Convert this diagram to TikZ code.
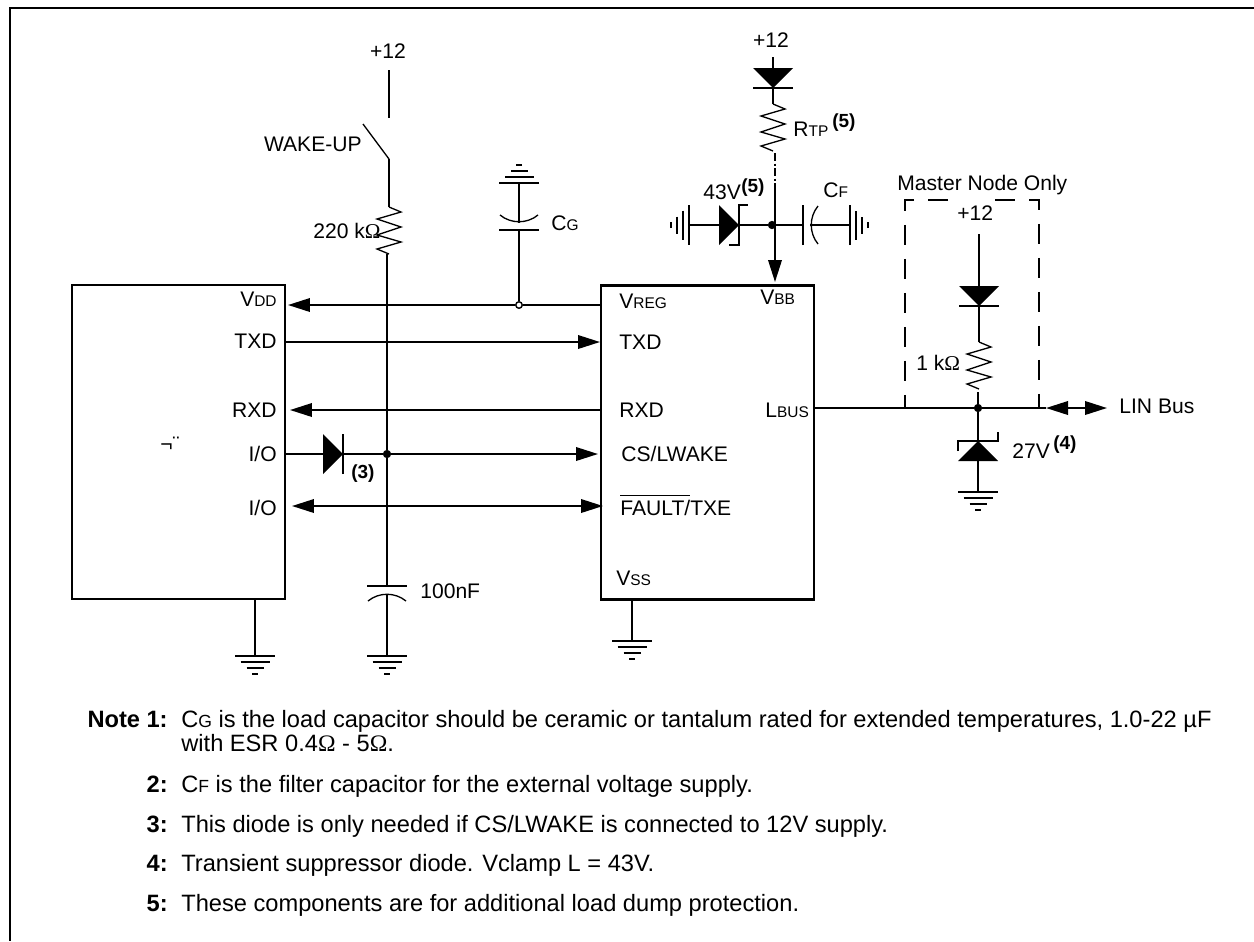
\documentclass[tikz,border=0pt]{standalone}
\usepackage{fontspec}
\setmainfont{Liberation Sans}
\newfontfamily\omegafont{Liberation Serif}
\usetikzlibrary{arrows.meta}
\newcommand{\smc}[1]{{\fontsize{8.8}{10}\selectfont #1}}
\newcommand{\smn}[1]{{\fontsize{10}{12}\selectfont #1}}
\newcommand{\omg}{{\omegafont Ω}}
\newcommand{\fnum}[1]{{\fontsize{10.8}{12}\selectfont\bfseries #1}}
\tikzset{
	every node/.style={font=\fontsize{12}{14}\selectfont},
	wire/.style={line width=1.15pt},
	fine/.style={line width=0.75pt},
	frame/.style={line width=1.4pt},
	block/.style={draw,line width=1.25pt,shape=rectangle,minimum width=4.26cm,minimum height=6.28cm},
	lbl/.style={inner sep=0pt,anchor=base west},
	lblr/.style={inner sep=0pt,anchor=base east},
	note/.style={lbl,font=\fontsize{13.46}{16}\selectfont},
	noter/.style={lblr,font=\fontsize{13.46}{16}\selectfont\bfseries},
	dot/.style={draw,shape=circle,fill,inner sep=0pt,minimum size=0.15cm},
	odot/.style={draw,shape=circle,fill=white,line width=0.8pt,inner sep=0pt,minimum size=0.13cm},
	gnd/.pic={
		\draw[wire] (-20,0) -- (20,0) (-14.5,6) -- (14.5,6) (-8.5,12) -- (8.5,12) (-3,18) -- (3,18);
	},
	dio/.pic={
		\fill (-20,0) -- (20,0) -- (0,20) -- cycle;
		\draw[wire] (-20,20) -- (20,20);
	},
	zen/.pic={
		\fill (-20,0) -- (20,0) -- (0,20) -- cycle;
		\draw[wire] (-20,10) -- (-20,20) -- (20,20) -- (20,29);
	},
	res/.pic={
		\draw[fine] (0,0) -- (12,5) -- (-12,12) -- (12,20) -- (-12,28) -- (12,35) -- (-12,42) -- (0,47);
	},
	cap/.pic={
		\draw[wire] (-20,0) -- (20,0);
		\draw[fine] (-19,15) .. controls (-8,6) and (8,6) .. (19,15);
	},
	>={Triangle[length=0.44cm,width=0.27cm]}
}
\begin{document}
\begin{tikzpicture}[x=0.02cm,y=-0.02cm]
	\useasboundingbox (0,0) rectangle (1254,941);
	% frame, open on the right and at the bottom
	\draw (1254,8) coordinate (frameR);
	\draw (10,8) coordinate (frameC);
	\draw (10,941) coordinate (frameB);
	\draw[frame] (frameR) -- (frameC) -- (frameB);

	% the two blocks
	\draw (178.5,442) node (mcu) [block] {};
	\draw (707.5,442.5) node (lin) [block] {};
	\draw (170,444) node (mcuName) {¬¨};
	\draw (277,306) node (mcuVdd) [lblr] {V\smc{DD}};
	\draw (277,348) node (mcuTxd) [lblr] {TXD};
	\draw (277,417) node (mcuRxd) [lblr] {RXD};
	\draw (277,461) node (mcuIoA) [lblr] {I/O};
	\draw (277,515) node (mcuIoB) [lblr] {I/O};
	\draw (619,308) node (linVreg) [lbl] {V\smc{REG}};
	\draw (760,304) node (linVbb) [lbl] {V\smc{BB}};
	\draw (619,349) node (linTxd) [lbl] {TXD};
	\draw (619,417) node (linRxd) [lbl] {RXD};
	\draw (765,417) node (linBus) [lbl] {L\smc{BUS}};
	\draw (621,461) node (linCs) [lbl] {CS/LWAKE};
	\draw (620,515) node (linFault) [lbl] {$\overline{\mbox{FAULT/\rule{0pt}{10pt}}}$TXE};
	\draw (616,585) node (linVss) [lbl] {V\smc{SS}};

	% signal lines
	\draw (601,305) coordinate (pinVreg);
	\draw (288,305) coordinate (tipVdd);
	\draw (519,305) node (dotCg) [odot] {};
	\draw[wire] (pinVreg) -- (dotCg);
	\draw[wire,->] (dotCg) -- (tipVdd);
	\draw (285,342) coordinate (pinTxd);
	\draw (600,342) coordinate (tipTxd);
	\draw[wire,->] (pinTxd) -- (tipTxd);
	\draw (601,410) coordinate (pinRxd);
	\draw (290,410) coordinate (tipRxd);
	\draw[wire,->] (pinRxd) -- (tipRxd);
	\draw (285,454) coordinate (pinIo);
	\draw (323,454) coordinate (dioIn);
	\draw (343,454) coordinate (dioOut);
	\draw (387,454) node (dotIo) [dot] {};
	\draw (598,454) coordinate (tipCs);
	\draw[wire] (pinIo) -- (dioIn);
	\draw (dioIn) pic[rotate=90] {dio};
	\draw[wire] (dioOut) -- (dotIo);
	\draw[wire,->] (dotIo) -- (tipCs);
	\draw (351,478) node (fnDio) [lbl] {\fnum{(3)}};
	\draw (292,506) coordinate (tipIoL);
	\draw (603,506) coordinate (tipIoR);
	\draw[wire,<->] (tipIoL) -- (tipIoR);

	% wake-up branch
	\draw (388,58) node (wakeV) [lblr,anchor=base] {+12};
	\draw (389,70) coordinate (wakeTop);
	\draw (389,118) coordinate (wakeIn);
	\draw (363,124) coordinate (bladeTip);
	\draw (389,159) coordinate (bladeEnd);
	\draw (389,207) coordinate (rWake);
	\draw (387,254) coordinate (rWakeOut);
	\draw (387,586) coordinate (plateC);
	\draw (387,594) coordinate (arcC);
	\draw (387,656) coordinate (gndC);
	\draw[wire] (wakeTop) -- (wakeIn);
	\draw[fine] (bladeTip) -- (bladeEnd);
	\draw[wire] (bladeEnd) -- (rWake);
	\draw (rWake) pic {res};
	\draw[wire] (rWakeOut) -- (dotIo);
	\draw[wire] (dotIo) -- (plateC);
	\draw (plateC) pic {cap};
	\draw[wire] (arcC) -- (gndC);
	\draw (gndC) pic {gnd};
	\draw (362,151) node (wakeLbl) [lblr] {WAKE-UP};
	\draw (313,238) node (rWakeLbl) [lbl] {220 k\omg};
	\draw (420,598) node (capLbl) [lbl] {100nF};

	% load capacitor
	\draw (519,183) coordinate (gndG);
	\draw (519,223) coordinate (arcG);
	\draw (519,230) coordinate (plateG);
	\draw (gndG) pic[rotate=180] {gnd};
	\draw[wire] (gndG) -- (arcG);
	\draw (plateG) pic[rotate=180] {cap};
	\draw[wire] (plateG) -- (dotCg);
	\draw (551,230) node (cgLbl) [lbl] {C\smc{G}};

	% grounds under the blocks
	\draw (255,599) coordinate (pinGndA);
	\draw (255,656) coordinate (gndA);
	\draw[wire] (pinGndA) -- (gndA);
	\draw (gndA) pic {gnd};
	\draw (632,600) coordinate (pinGndB);
	\draw (632,641) coordinate (gndB);
	\draw[wire] (pinGndB) -- (gndB);
	\draw (gndB) pic {gnd};

	% VBB supply
	\draw (771,47) node (vbbV) [lblr,anchor=base] {+12};
	\draw (773,57) coordinate (vbbTop);
	\draw (773,68) coordinate (vbbDio);
	\draw (773,88) coordinate (vbbBar);
	\draw (773,104) coordinate (rTp);
	\draw (775,153) coordinate (rTpOut);
	\draw (775,185) coordinate (vbbSolid);
	\draw (775,282) coordinate (tipVbb);
	\draw (772,225) node (dotVbb) [dot] {};
	\draw[wire] (vbbTop) -- (vbbDio);
	\draw (vbbDio) pic {dio};
	\draw[wire] (vbbBar) -- (rTp);
	\draw (rTp) pic {res};
	\draw[wire,dash pattern=on 0.16cm off 0.05cm on 0.04cm off 0.05cm] (rTpOut) -- (vbbSolid);
	\draw[wire,->] (vbbSolid) -- (tipVbb);
	\draw (793,136) node (rTpLbl) [lbl] {R\smc{TP}};
	\draw (832,127) node (rTpFn) [lbl] {\fnum{(5)}};

	% 43V clamp and filter capacitor
	\draw (689,225) coordinate (gndL);
	\draw (719,225) coordinate (zenL);
	\draw (739,225) coordinate (zenLOut);
	\draw (803,225) coordinate (plateF);
	\draw (810,225) coordinate (arcF);
	\draw (850,225) coordinate (gndF);
	\draw (gndL) pic[rotate=-90] {gnd};
	\draw[wire] (gndL) -- (zenL);
	\draw (zenL) pic[rotate=90] {zen};
	\draw[wire] (zenLOut) -- (dotVbb);
	\draw[wire] (dotVbb) -- (plateF);
	\draw (plateF) pic[rotate=90] {cap};
	\draw[wire] (arcF) -- (gndF);
	\draw (gndF) pic[rotate=90] {gnd};
	\draw (703,199) node (zenLLbl) [lbl] {43V};
	\draw (741,192) node (zenLFn) [lbl] {\fnum{(5)}};
	\draw (823,197) node (cfLbl) [lbl] {C\smc{F}};

	% LIN bus and master pull-up
	\draw (814,408) coordinate (pinBus);
	\draw (978,408) node (dotBus) [dot] {};
	\draw (1046,408) coordinate (tipBusL);
	\draw (1107,408) coordinate (tipBusR);
	\draw[wire] (pinBus) -- (dotBus);
	\draw[wire] (dotBus) -- (tipBusL);
	\draw[wire,<->] (tipBusL) -- (tipBusR);
	\draw (1119,413) node (busLbl) [lbl] {LIN Bus};
	\draw (948,200) coordinate (boxA);
	\draw (905,200) coordinate (boxB);
	\draw (905,408) coordinate (boxC);
	\draw (995,200) coordinate (boxD);
	\draw (1039,200) coordinate (boxE);
	\draw (1039,408) coordinate (boxF);
	\draw[wire,dash pattern=on 0.4cm off 0.28cm] (boxA) -- (boxB) -- (boxC);
	\draw[wire,dash pattern=on 0.4cm off 0.28cm] (boxD) -- (boxE) -- (boxF);
	\draw (897,190) node (boxLbl) [lbl] {Master Node Only};
	\draw (957,220) node (masterV) [lbl] {+12};
	\draw (979,234) coordinate (masterTop);
	\draw (979,286) coordinate (masterDio);
	\draw (979,306) coordinate (masterBar);
	\draw (979,342) coordinate (rMaster);
	\draw (978,392) coordinate (rMasterOut);
	\draw[wire] (masterTop) -- (masterDio);
	\draw (masterDio) pic {dio};
	\draw[wire] (masterBar) -- (rMaster);
	\draw (rMaster) pic {res};
	\draw[wire] (rMasterOut) -- (dotBus);
	\draw (916,370) node (rMasterLbl) [lbl] {1 k\omg};
	\draw (978,461) coordinate (zenB);
	\draw (978,441) coordinate (zenBOut);
	\draw (978,492) coordinate (gndB2);
	\draw[wire] (dotBus) -- (zenBOut);
	\draw (zenB) pic[yscale=-1] {zen};
	\draw[wire] (zenB) -- (gndB2);
	\draw (gndB2) pic {gnd};
	\draw (1012,458) node (zenBLbl) [lbl] {27V};
	\draw (1053,449) node (zenBFn) [lbl] {\fnum{(4)}};

	% notes
	\draw (168,727) node (noteA) [noter] {Note 1:};
	\draw (181,727) node (noteAa) [note] {C\smn{G} is the load capacitor should be ceramic or tantalum rated for extended temperatures, 1.0-22 µF};
	\draw (181,751) node (noteAb) [note] {with ESR 0.4\omg{} - 5\omg.};
	\draw (168,792) node (noteB) [noter] {2:};
	\draw (181,792) node (noteBa) [note] {C\smn{F} is the filter capacitor for the external voltage supply.};
	\draw (168,832) node (noteC) [noter] {3:};
	\draw (181,832) node (noteCa) [note] {This diode is only needed if CS/LWAKE is connected to 12V supply.};
	\draw (168,871) node (noteD) [noter] {4:};
	\draw (181,871) node (noteDa) [note] {Transient suppressor diode. Vclamp L = 43V.};
	\draw (168,911) node (noteE) [noter] {5:};
	\draw (181,911) node (noteEa) [note] {These components are for additional load dump protection.};
\end{tikzpicture}
\end{document}
